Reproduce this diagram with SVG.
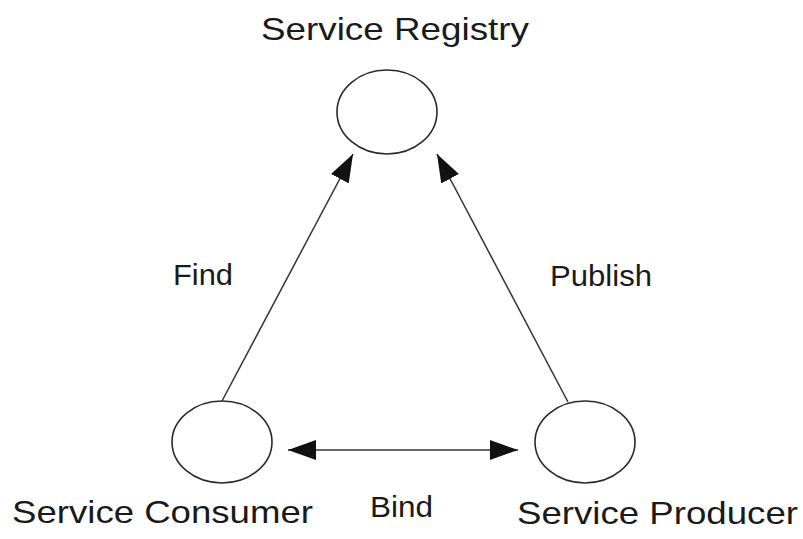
<svg xmlns="http://www.w3.org/2000/svg" width="803" height="539" viewBox="0 0 803 539">
  <style>
    .node { fill: #ffffff; stroke: #2a2a2a; stroke-width: 1.6; }
    .edge { fill: none; stroke: #333333; stroke-width: 1.5; }
    .title { font-family: "Liberation Sans", Arial, sans-serif; font-size: 32px; fill: #1a1a1a; }
    .label { font-family: "Liberation Sans", Arial, sans-serif; font-size: 30px; fill: #1a1a1a; }
  </style>
  <defs>
    <marker id="head" markerUnits="userSpaceOnUse" markerWidth="28" markerHeight="20" viewBox="0 0 28 20" refX="28" refY="10" orient="auto-start-reverse">
      <path d="M0,0 L28,10 L0,20 z" fill="#111111"/>
    </marker>
  </defs>
  <rect width="803" height="539" fill="#ffffff"/>

  <g id="connectors">
    <line id="find" class="edge" x1="222" y1="401" x2="353" y2="154" marker-end="url(#head)"/>
    <line id="publish" class="edge" x1="568" y1="402" x2="437" y2="154" marker-end="url(#head)"/>
    <line id="bind" class="edge" x1="288" y1="450" x2="518" y2="450" marker-start="url(#head)" marker-end="url(#head)"/>
    <text class="label" x="173" y="285" textLength="60" lengthAdjust="spacingAndGlyphs">Find</text>
    <text class="label" x="550" y="286" textLength="102" lengthAdjust="spacingAndGlyphs">Publish</text>
    <text class="label" x="370" y="517" textLength="63" lengthAdjust="spacingAndGlyphs">Bind</text>
  </g>

  <g id="registry">
    <ellipse class="node" cx="387" cy="112" rx="50" ry="42"/>
    <text class="title" x="261" y="40" textLength="268" lengthAdjust="spacingAndGlyphs">Service Registry</text>
  </g>

  <g id="consumer">
    <ellipse class="node" cx="222" cy="442" rx="50" ry="41"/>
    <text class="title" x="12" y="523" textLength="301" lengthAdjust="spacingAndGlyphs">Service Consumer</text>
  </g>

  <g id="producer">
    <ellipse class="node" cx="585" cy="442" rx="50" ry="41"/>
    <text class="title" x="517" y="524" textLength="281" lengthAdjust="spacingAndGlyphs">Service Producer</text>
  </g>
</svg>
